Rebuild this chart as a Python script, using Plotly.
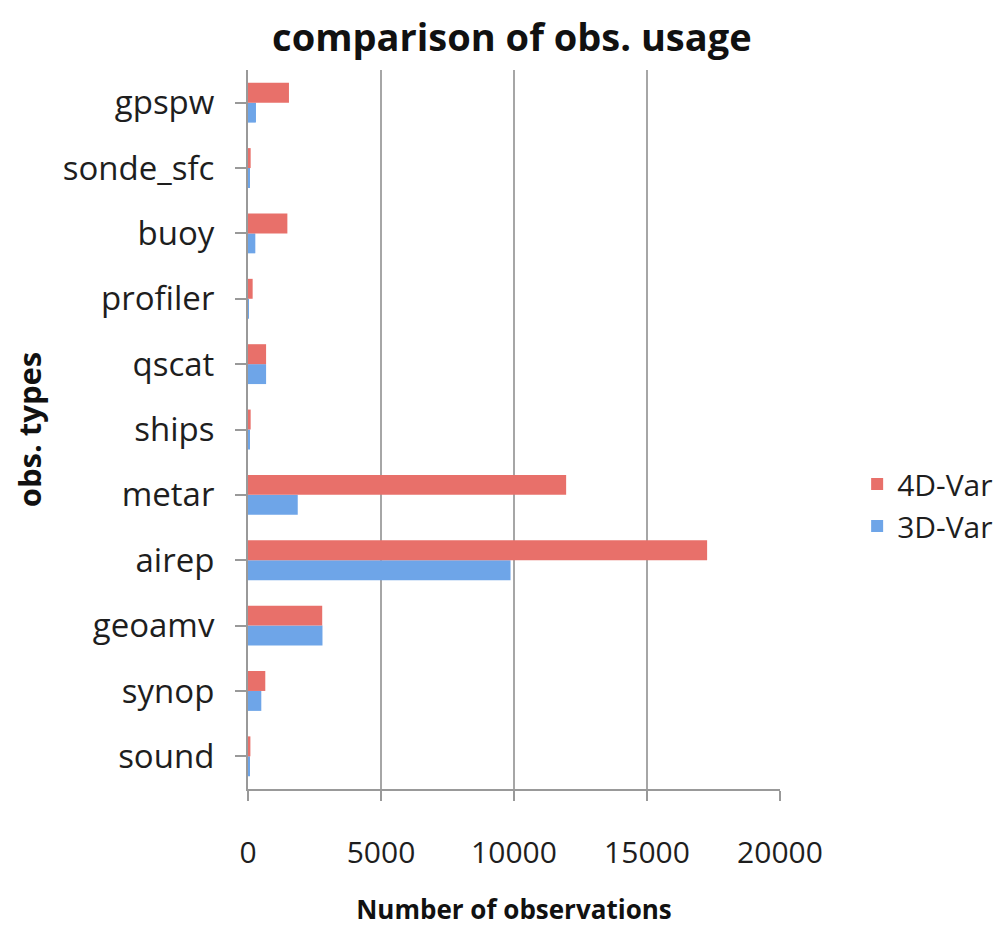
import plotly.graph_objects as go

categories = ["sound", "synop", "geoamv", "airep", "metar", "ships", "qscat",
              "profiler", "buoy", "sonde_sfc", "gpspw"]
var3d = [60, 500, 2800, 9870, 1870, 50, 680, 30, 275, 50, 300]
var4d = [90, 650, 2790, 17260, 11960, 100, 680, 175, 1480, 100, 1540]
x_ticks = [0, 5000, 10000, 15000, 20000]
x_tick_text = ["0", "5000", "10000", "15000", "20000"]

FONT = "Open Sans"
TXT = "#1e1e1e"

fig = go.Figure()
fig.add_trace(go.Bar(y=categories, x=var3d, name="3D-Var", orientation="h",
                     marker=dict(color="#6ea5e8", line=dict(width=0))))
fig.add_trace(go.Bar(y=categories, x=var4d, name="4D-Var", orientation="h",
                     marker=dict(color="#e8706a", line=dict(width=0))))

fig.update_layout(
    width=1008, height=929,
    paper_bgcolor="white", plot_bgcolor="white",
    margin=dict(l=240, r=236, t=62, b=148),
    barmode="group", bargap=0.39, bargroupgap=0.0,
    font=dict(family=FONT, color=TXT),
    title=dict(text="<b>comparison of obs. usage</b>", x=0.496, xref="paper",
               y=0.968, yref="container", yanchor="middle", xanchor="center",
               font=dict(size=38, family=FONT, color="#111111")),
    legend=dict(traceorder="reversed", x=1.145, y=0.395, xanchor="left",
                yanchor="middle", font=dict(size=30, family=FONT, color=TXT),
                itemwidth=30, tracegroupgap=0),
    xaxis=dict(range=[0, 20000], tickvals=x_ticks, ticktext=x_tick_text,
               tickfont=dict(size=30, family=FONT, color=TXT), ticks="outside",
               ticklen=10, tickcolor="#999999", tickwidth=2, showline=True,
               linecolor="#999999", linewidth=2, showgrid=True,
               gridcolor="#a6a6a6", gridwidth=2, zeroline=False,
               ticklabelstandoff=26, automargin=False,
               title=dict(text="<b>Number of observations</b>",
                          font=dict(size=26, family=FONT, color="#111111"),
                          standoff=30)),
    yaxis=dict(categoryorder="array", categoryarray=categories,
               tickfont=dict(size=33, family=FONT, color=TXT), ticks="outside",
               ticklen=11, tickcolor="#999999", tickwidth=2, showline=True,
               linecolor="#999999", linewidth=2, showgrid=False,
               ticklabelstandoff=14, automargin=False,
               title=dict(text="<b>obs. types</b>",
                          font=dict(size=31, family=FONT, color="#111111"),
                          standoff=17)),
)

fig.write_html("out.html")
